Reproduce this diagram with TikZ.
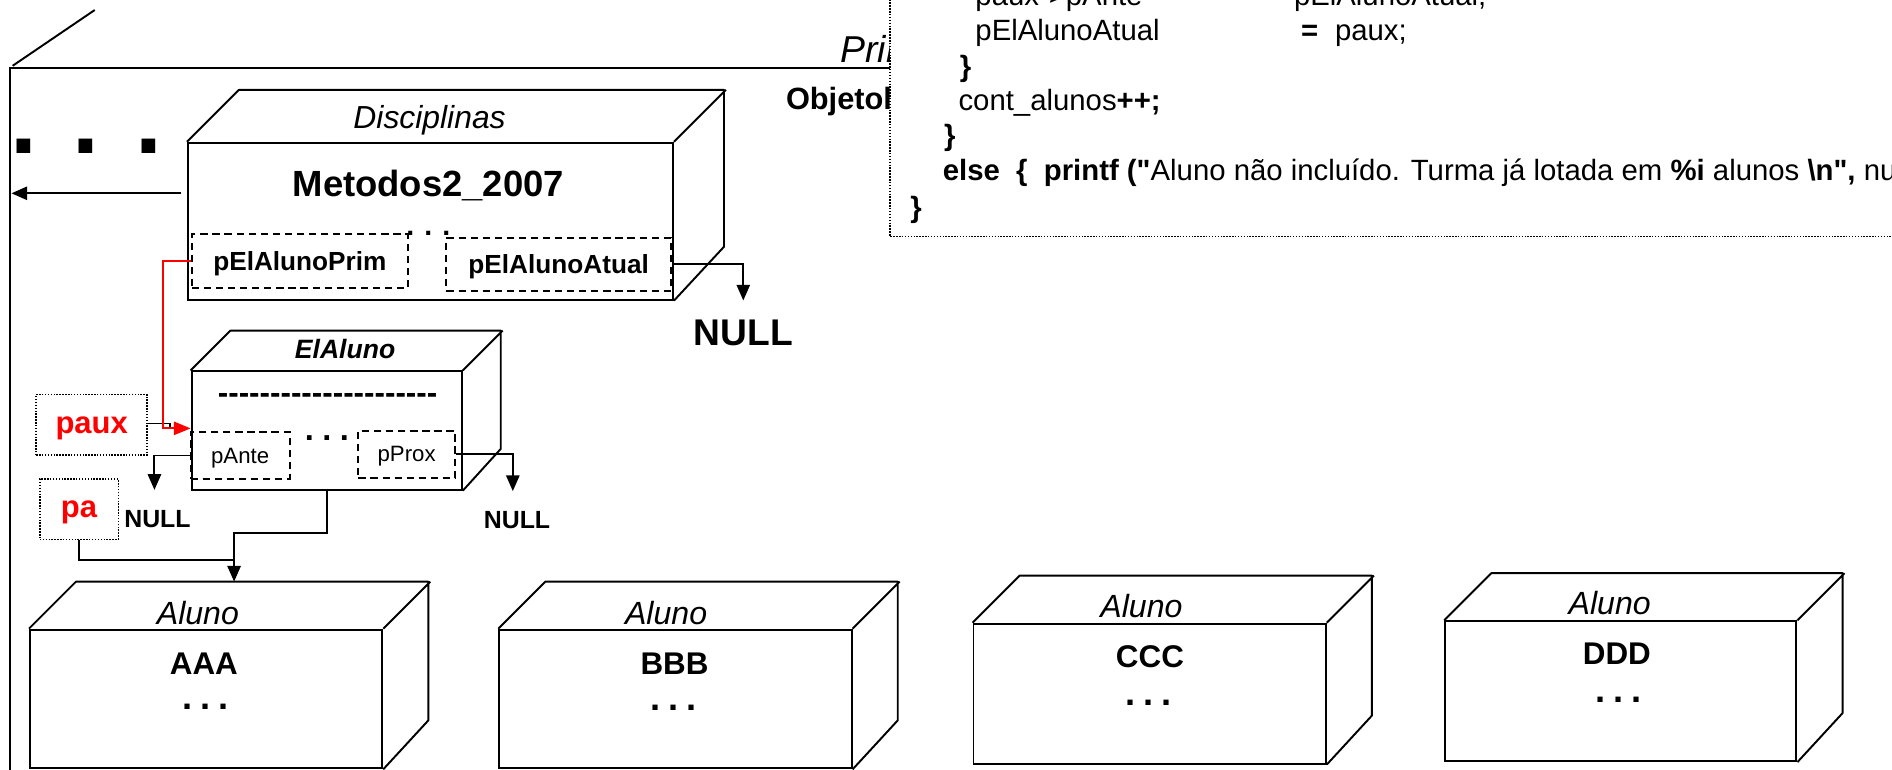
\documentclass[tikz,border=0pt]{standalone}
\usepackage{fontspec}
\setmainfont{Liberation Sans}
\usetikzlibrary{arrows.meta}
\newcommand\fsz[1]{\fontsize{#1}{#1}\selectfont}
\newcommand\dq{\XeTeXglyph\XeTeXglyphindex "quotedbl"\relax}
\newcommand\cube[6]{%
  \node[face, minimum width=#4*0.5pt, minimum height=#5*0.5pt, anchor=north west] (#1) at (#2,#3) {};
  \draw[line width=0.8pt, line join=round] (#1.north west) -- ++(#6,-#6) -- ++(#4,0) -- ++(0,#5) -- (#1.south east) (#1.north east) -- ++(#6,-#6);}
\begin{document}
\begin{tikzpicture}[x=0.5pt,y=-0.5pt,
  txt/.style={inner sep=0pt, text depth=0pt},
  ln/.style={line width=0.8pt},
  arr/.style={line width=0.8pt, -{Triangle[width=5.5pt,length=6.5pt]}},
  rarr/.style={line width=0.9pt, red, -{Triangle[width=5.5pt,length=7pt]}},
  dbox/.style={draw, line width=0.8pt, dash pattern=on 3pt off 2pt, inner sep=0pt, text depth=0pt},
  obox/.style={draw, line width=0.6pt, dash pattern=on 0.6pt off 0.6pt, inner sep=0pt, text depth=0pt},
  face/.style={draw, line width=0.8pt, inner sep=0pt},
  code/.style={inner sep=0pt, anchor=base west, font=\fsz{12.15pt}},
  bdots/.style={inner sep=0pt, anchor=base},
]
\useasboundingbox (0,0) rectangle (1568,638);
\fill[white] (0,0) rectangle (1568,638);

% outer frame
\coordinate (fa) at (10.5,54.5);
\coordinate (fb) at (78.5,8.3);
\draw[ln] (fa) -- (fb);
\coordinate (ftl) at (8.6,56.6);
\coordinate (ftr) at (745,56.6);
\coordinate (fbl) at (8.6,645);
\draw[ln] (ftr) -- (ftl) -- (fbl);
\node[txt, anchor=base west, font=\fsz{15.5pt}\itshape] (pri) at (696,52) {Prin};
\node[txt, anchor=base west, font=\fsz{12.75pt}\bfseries] (obj) at (651,91) {Objetol};

% code box
\coordinate (cb1) at (737.5,-10);
\coordinate (cb2) at (1600,196);
\fill[white] (cb1) rectangle (cb2);
\draw[line width=0.6pt, dash pattern=on 0.6pt off 0.6pt] (cb1) rectangle (cb2);
\node[code] (l0a) at (808,4.5) {paux->pAnte};
\node[code] (l0b) at (1072,4.5) {pElAlunoAtual;};
\node[code] (l1a) at (808,33.5) {pElAlunoAtual};
\node[code] (l1b) at (1078,33.5) {\textbf{=}};
\node[code] (l1c) at (1106,33.5) {paux;};
\node[code] (l2) at (795,63) {\textbf{\}}};
\node[code] (l3) at (794,91.5) {cont\_alunos\textbf{++;}};
\node[code] (l4) at (782,120.5) {\textbf{\}}};
\node[code] (l5) at (781,149.5) {\textbf{else\ \ \{\ \ printf (\dq}Aluno não incluído. Turma já lotada em \textbf{\%i} alunos \textbf{\textbackslash n\dq,} nu};
\node[code] (l6) at (754,180) {\textbf{\}}};

% Disciplinas
\cube{disc}{155}{117.5}{402}{130}{43}
\node[txt, font=\fsz{13.2pt}\itshape] (disct) at (356,97) {Disciplinas};
\node[txt, font=\fsz{15.1pt}\bfseries] (met) at (355,152) {Metodos2\_2007};
\node[dbox, minimum width=89.5pt, minimum height=22.5pt, font=\fsz{10.85pt}\bfseries] (prim) at (248.5,216.5) {pElAlunoPrim};
\node[dbox, minimum width=93pt, minimum height=22pt, font=\fsz{10.85pt}\bfseries] (atual) at (463,219) {pElAlunoAtual};
\node[bdots, font=\fsz{11.8pt}\bfseries] (ddots) at (355,195) {.\kern4.2pt.\kern4.2pt.};
\node[bdots, font=\fsz{40pt}\bfseries] (sq) at (71.4,127) {. . .};
\coordinate (la1) at (150,160.2);
\coordinate (la2) at (9.5,160.2);
\draw[arr] (la1) -- (la2);
\coordinate (n1) at (616,249);
\draw[arr] (atual.east) -| (n1);
\node[txt, font=\fsz{15.4pt}\bfseries] (null1) at (616,276) {NULL};

% ElAluno
\cube{ela}{158}{307}{224}{98}{33}
\node[txt, font=\fsz{11pt}\bfseries\itshape] (elat) at (286,289) {ElAluno};
\node[bdots, font=\fsz{13pt}\bfseries] (dash) at (271.5,334) {-{}-{}-{}-{}-{}-{}-{}-{}-{}-{}-{}-{}-{}-{}-{}-{}-{}-{}-{}-{}-};
\node[dbox, minimum width=41pt, minimum height=19.5pt, font=\fsz{9.2pt}] (pante) at (199,377.5) {pAnte};
\node[dbox, minimum width=40pt, minimum height=19.5pt, font=\fsz{9.2pt}] (pprox) at (337,376.5) {pProx};
\node[bdots, font=\fsz{13.5pt}\bfseries] (edots) at (271,365) {.\kern3.5pt.\kern3.5pt.};
\coordinate (n2) at (128,406);
\draw[arr] (pante.west) -| (n2);
\node[txt, font=\fsz{10.3pt}\bfseries] (null2) at (130.5,430) {NULL};
\coordinate (n3) at (425,407);
\draw[arr] (pprox.east) -| (n3);
\node[txt, font=\fsz{10.3pt}\bfseries] (null3) at (428.5,431) {NULL};

% paux, pa
\node[obox, minimum width=46pt, minimum height=25pt, font=\fsz{12.85pt}\bfseries, text=red] (paux) at (76,352) {paux};
\node[obox, minimum width=32.5pt, minimum height=25pt, font=\fsz{12.85pt}\bfseries, text=red] (pa) at (65.5,422) {pa};
\coordinate (pk) at (141,351);
\coordinate (pk2) at (141,355);
\draw[line width=0.6pt] (paux.east |- pk) -- (pk) -- (pk2);
\coordinate (r1) at (135,355);
\coordinate (r2) at (158,355);
\draw[rarr] (prim.west) -| (r1) -- (r2);
\coordinate (j2) at (194,464);
\draw[ln] (pa.south) |- (j2);
\coordinate (elb) at (271,405);
\coordinate (j1) at (194,442);
\coordinate (aaatop) at (194,482);
\draw[arr] (elb) |- (j1) -- (aaatop);

% Aluno boxes
\cube{aaa}{24}{521}{292}{115}{39}
\node[txt, font=\fsz{13.3pt}\itshape] (aaal) at (164,507.5) {Aluno};
\node[txt, font=\fsz{13pt}\bfseries] (aaan) at (169,550) {AAA};
\node[bdots, font=\fsz{15pt}\bfseries] (aaad) at (170,588) {.\kern3.3pt.\kern3.3pt.};

\cube{bbb}{413}{521}{292}{115}{39}
\node[txt, font=\fsz{13.3pt}\itshape] (bbbl) at (552,507.5) {Aluno};
\node[txt, font=\fsz{13pt}\bfseries] (bbbn) at (559,550) {BBB};
\node[bdots, font=\fsz{15pt}\bfseries] (bbbd) at (558,589) {.\kern3.3pt.\kern3.3pt.};

\cube{ccc}{806}{516}{292}{116}{39}
\node[txt, font=\fsz{13.3pt}\itshape] (cccl) at (946,502) {Aluno};
\node[txt, font=\fsz{13pt}\bfseries] (cccn) at (953,544) {CCC};
\node[bdots, font=\fsz{15pt}\bfseries] (cccd) at (952,585) {.\kern3.3pt.\kern3.3pt.};

\cube{ddd}{1197}{514}{291}{116}{39}
\node[txt, font=\fsz{13.3pt}\itshape] (dddl) at (1334,500) {Aluno};
\node[txt, font=\fsz{13pt}\bfseries] (dddn) at (1340,541.5) {DDD};
\node[bdots, font=\fsz{15pt}\bfseries] (dddd) at (1341,582) {.\kern3.3pt.\kern3.3pt.};
\end{tikzpicture}
\end{document}
